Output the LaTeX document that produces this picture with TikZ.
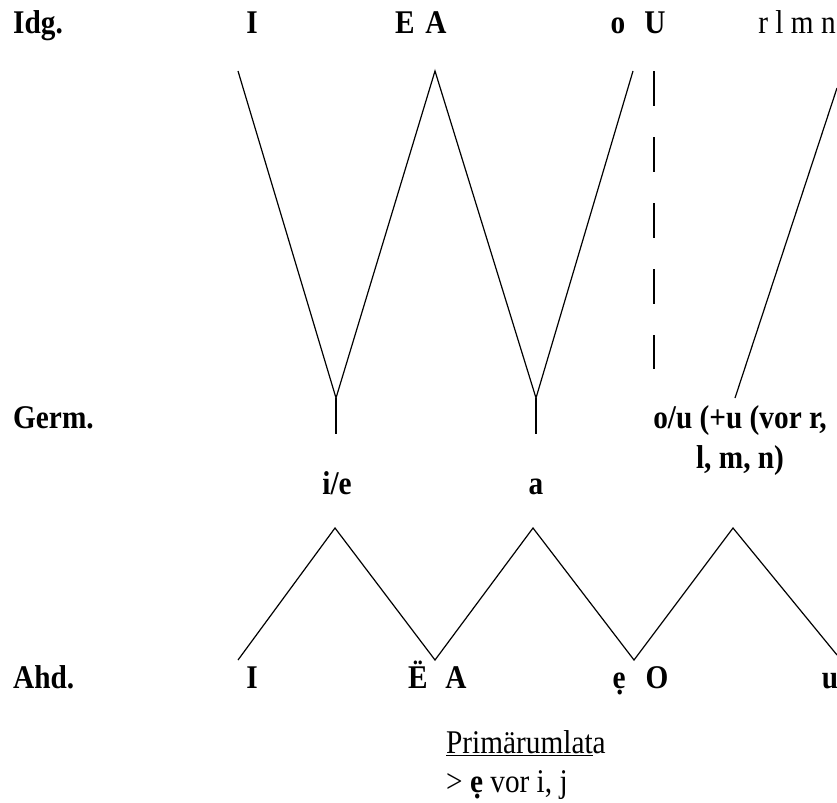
\documentclass[tikz,border=0pt]{standalone}
\usepackage{fontspec}
\setmainfont{Liberation Serif}[FakeStretch=0.885]
\usepackage{tikz}

\tikzset{
  lbl/.style={font=\fontsize{33.1bp}{39bp}\selectfont\bfseries, inner sep=0pt, anchor=base},
  txt/.style={font=\fontsize{33.1bp}{39bp}\selectfont, inner sep=0pt, anchor=base},
  stroke/.style={line width=1.2bp},
  bar/.style={line width=2.2bp},
}

\begin{document}
\begin{tikzpicture}[x=10bp,y=-10bp]
		\useasboundingbox (0,0) rectangle (83.7,80.3);

		% Idg.
		\node (idg) [lbl, anchor=base west] at (1.3,3.3) {Idg.};
		\node (idgI) [lbl] at (25.2,3.3) {I};
		\node (idgE) [lbl] at (40.5,3.3) {E};
		\node (idgA) [lbl] at (43.6,3.3) {A};
		\node (idgo) [lbl] at (61.8,3.3) {o};
		\node (idgU) [lbl] at (65.5,3.3) {U};
		\node (rlmn) [txt] at (79.7,3.3) {r l m n};

		\coordinate (t1) at (23.8,7.1);
		\coordinate (v1) at (33.6,39.8);
		\coordinate (t2) at (43.5,7.1);
		\coordinate (v2) at (53.6,39.8);
		\coordinate (t3) at (63.3,7.1);
		\coordinate (d1) at (65.4,7.1);
		\coordinate (d2) at (65.4,36.9);
		\coordinate (v3) at (73.5,39.8);
		\coordinate (t4) at (83.7,8.8);
		\coordinate (b1) at (33.6,43.4);
		\coordinate (b2) at (53.6,43.4);

		\draw[stroke] (t1) -- (v1) -- (t2) -- (v2) -- (t3);
		\draw[bar, dash pattern=on 35bp off 31bp] (d1) -- (d2);
		\draw[stroke] (v3) -- (t4);
		\draw[bar] (v1) -- (b1);
		\draw[bar] (v2) -- (b2);

		% Germ.
		\node (germ) [lbl, anchor=base west] at (1.3,42.8) {Germ.};
		\node (ou) [lbl] at (74.0,42.8) {o/u (+u (vor r,};
		\node (lmn) [lbl] at (74.0,46.8) {l, m, n)};
		\node (ie) [lbl] at (33.7,49.4) {i/e};
		\node (a) [lbl] at (53.6,49.4) {a};

		\coordinate (z1) at (23.8,66.0);
		\coordinate (p1) at (33.5,52.8);
		\coordinate (z2) at (43.5,66.0);
		\coordinate (p2) at (53.3,52.8);
		\coordinate (z3) at (63.4,66.0);
		\coordinate (p3) at (73.3,52.8);
		\coordinate (z4) at (83.7,65.5);

		\draw[stroke] (z1) -- (p1) -- (z2) -- (p2) -- (z3) -- (p3) -- (z4);

		% Ahd.
		\node (ahd) [lbl, anchor=base west] at (1.3,68.8) {Ahd.};
		\node (ahdI) [lbl] at (25.2,68.8) {I};
		\node (ahdE) [lbl] at (41.8,68.8) {Ë};
		\node (ahdA) [lbl] at (45.6,68.8) {A};
		\node (ahde) [lbl] at (61.9,68.8) {ẹ};
		\node (ahdO) [lbl] at (65.7,68.8) {O};
		\node (ahdu) [lbl] at (83.0,68.8) {u};

		\node (prim) [txt, anchor=base west] at (44.6,75.3) {\underline{Primärumlat}a};
		\node (rule) [txt, anchor=base west] at (44.6,79.2) {> \textbf{ẹ} vor i, j};
	\end{tikzpicture}
\end{document}
